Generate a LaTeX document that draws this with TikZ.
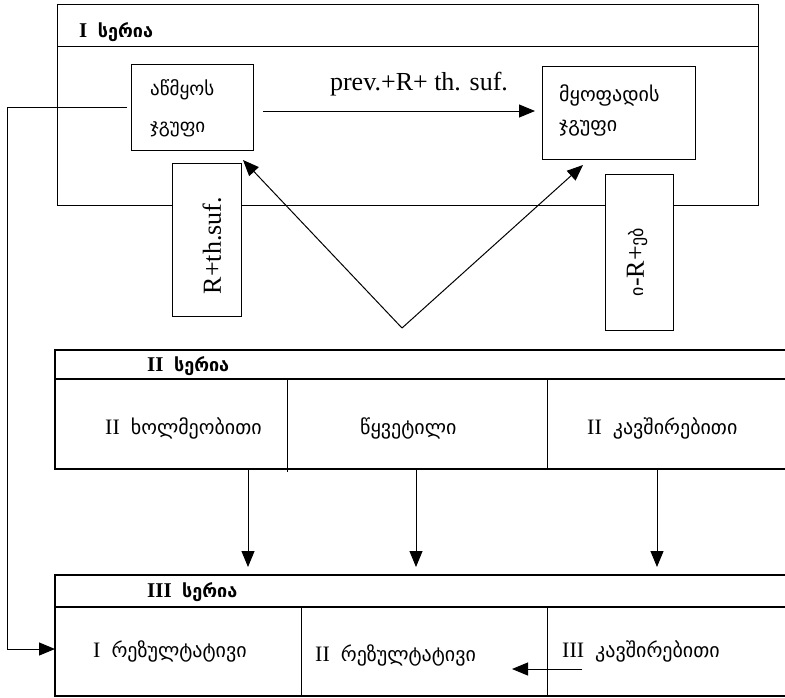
\documentclass[tikz,border=0pt]{standalone}
\usepackage{fontspec}
\setmainfont{Liberation Serif}
\newfontfamily\geo{DejaVu Sans}
\usetikzlibrary{arrows.meta}
\newcommand{\gcell}[1]{{\geo\fontsize{20}{22}\selectfont #1}}
\newcommand{\ghead}[1]{{\geo\bfseries\fontsize{18}{20}\selectfont #1}}
\begin{document}
\begin{tikzpicture}[x=1pt,y=-1pt,
  frame/.style={draw, line width=1pt},
  heavy/.style={draw, line width=1.8pt},
  box/.style={draw, line width=1pt, fill=white, inner sep=0pt},
  arr/.style={line width=1pt, -{Triangle[length=16pt,width=13pt]}},
  geotxt/.style={font=\geo\fontsize{19}{37}\selectfont, align=left, anchor=west, inner sep=0pt},
  celltxt/.style={font=\fontsize{22}{24}\selectfont, anchor=west, inner sep=0pt},
  head/.style={font=\bfseries\fontsize{21}{22}\selectfont, anchor=west, inner sep=0pt},
  vtxt/.style={font=\fontsize{26}{28}\selectfont, rotate=90, inner sep=0pt},
  lab/.style={font=\fontsize{26}{28}\selectfont, inner sep=0pt}]
\useasboundingbox (0,0) rectangle (785,697);
% ---------- Series I ----------
\draw[frame] (57,4) rectangle (758,205);
\draw[frame] (57,46) -- (758,46);
\node[head] (h1) at (79,32) {I\ \ \ghead{სერია}};
\node[box, minimum width=122pt, minimum height=86pt] (pres) at (192,107) {};
\node[geotxt] (prest) at (150,108) {აწმყოს\\ჯგუფი};
\node[box, minimum width=153pt, minimum height=93pt] (fut) at (618.5,112.5) {};
\node[geotxt, font=\geo\fontsize{20}{30}\selectfont] (futt) at (559,110) {მყოფადის\\ჯგუფი};
\coordinate (a1) at (263,111);
\coordinate (a2) at (535,111);
\draw[arr] (a1) -- (a2);
\node[lab] (prevlab) at (419,84) {prev.+R+ th. suf.};
\node[box, minimum width=69pt, minimum height=153pt] (rth) at (206.5,239.5) {};
\node[vtxt] (rtht) at (212,245.5) {R+th.suf.};
\node[box, minimum width=68pt, minimum height=156pt] (ireb) at (639,252) {};
\node[vtxt] (irebt) at (637.5,262) {{\geo\fontsize{18}{20}\selectfont ი}-R+{\geo\fontsize{18}{20}\selectfont ებ}};
\coordinate (apex) at (402,328);
\coordinate (tipL) at (243,160);
\coordinate (tipR) at (583,165);
\draw[arr] (apex) -- (tipL);
\draw[arr] (apex) -- (tipR);
% ---------- Series II ----------
\draw[heavy] (785,350) -- (55,350) -- (55,469) -- (785,469);
\draw[heavy] (55,379) -- (785,379);
\draw[frame] (287,378) -- (287,472);
\draw[frame] (547,379) -- (547,469);
\node[head] (h2) at (147,366) {II\ \ \ghead{სერია}};
\node[celltxt] (c21) at (105,428) {II\ \ \gcell{ხოლმეობითი}};
\node[celltxt] (c22) at (360,428) {\gcell{წყვეტილი}};
\node[celltxt] (c23) at (587,428) {II\ \ \gcell{კავშირებითი}};
% ---------- Series III ----------
\draw[heavy] (785,575) -- (55,575) -- (55,696) -- (785,696);
\draw[heavy] (55,607) -- (785,607);
\draw[frame] (301,607) -- (301,696);
\draw[frame] (547,607) -- (547,696);
\node[head] (h3) at (147,592) {III\ \ \ghead{სერია}};
\node[celltxt] (c31) at (93,651) {I\ \ \gcell{რეზულტატივი}};
\node[celltxt] (c32) at (315,655) {II\ \ \gcell{რეზულტატივი}};
\node[celltxt] (c33) at (562,651) {III\ \ \gcell{კავშირებითი}};
% ---------- connectors ----------
\coordinate (d1s) at (248,469); \coordinate (d1e) at (248,567);
\coordinate (d2s) at (416,469); \coordinate (d2e) at (416,567);
\coordinate (d3s) at (657,469); \coordinate (d3e) at (657,567);
\draw[arr] (d1s) -- (d1e);
\draw[arr] (d2s) -- (d2e);
\draw[arr] (d3s) -- (d3e);
\coordinate (h3s) at (582,669); \coordinate (h3e) at (512,669);
\draw[arr] (h3s) -- (h3e);
\coordinate (ls) at (127,107);
\coordinate (le) at (55,649);
\draw[arr] (ls) -- (7,107) |- (le);
\end{tikzpicture}
\end{document}
